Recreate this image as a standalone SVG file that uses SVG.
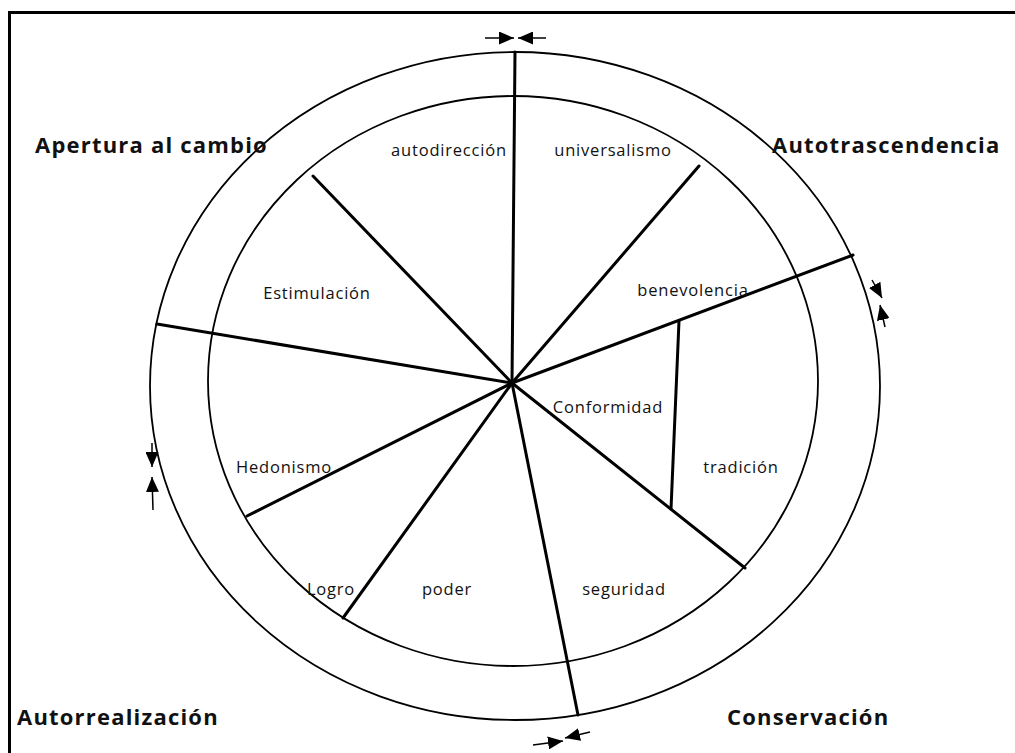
<svg xmlns="http://www.w3.org/2000/svg" width="1015" height="753" viewBox="0 0 1015 753">
<style>
.ring{fill:none;stroke:#000;stroke-width:1.8}
.spoke{stroke:#000;stroke-width:3;stroke-linecap:round}
.lbl{font-family:"Open Sans","Liberation Sans",sans-serif;font-size:16.5px;letter-spacing:0.8px;fill:#111;text-anchor:middle}
.big{font-family:"Open Sans","Liberation Sans",sans-serif;font-size:22px;letter-spacing:1.2px;font-weight:bold;fill:#111}
.arr{stroke:#000;stroke-width:1.5;marker-end:url(#ah)}
</style>
<defs>
<marker id="ah" markerUnits="userSpaceOnUse" markerWidth="15" markerHeight="13" refX="15" refY="6.5" orient="auto">
<path d="M0,0 L15,6.5 L0,13 z" fill="#000"/>
</marker>
</defs>
<rect width="1015" height="753" fill="#fff"/>
<g id="frame">
<line x1="9" y1="12.5" x2="1015" y2="12.5" stroke="#000" stroke-width="3"/>
<line x1="9.5" y1="11" x2="9.5" y2="753" stroke="#000" stroke-width="3"/>
</g>
<g id="outer-ring"><ellipse class="ring" cx="515" cy="386" rx="365" ry="334"/></g>
<g id="inner-ring"><ellipse class="ring" cx="513" cy="381" rx="305" ry="285"/></g>
<g id="connectors">
<line class="spoke" x1="512" y1="383" x2="515" y2="52"/>
<line class="spoke" x1="512" y1="383" x2="699" y2="166"/>
<line class="spoke" x1="512" y1="383" x2="853" y2="255"/>
<line class="spoke" x1="512" y1="383" x2="745" y2="568"/>
<line class="spoke" x1="512" y1="383" x2="578" y2="715"/>
<line class="spoke" x1="512" y1="383" x2="343" y2="618"/>
<line class="spoke" x1="512" y1="383" x2="247" y2="516"/>
<line class="spoke" x1="512" y1="383" x2="157" y2="324"/>
<line class="spoke" x1="512" y1="383" x2="313" y2="176"/>
<line class="spoke" x1="679" y1="321" x2="671" y2="509"/>
<line class="arr" x1="485" y1="38" x2="514" y2="38"/>
<line class="arr" x1="546" y1="38" x2="518" y2="38"/>
<line class="arr" x1="872" y1="280" x2="882" y2="298"/>
<line class="arr" x1="885" y1="327" x2="880" y2="305"/>
<line class="arr" x1="152" y1="443" x2="152" y2="467"/>
<line class="arr" x1="153" y1="510" x2="152" y2="477"/>
<line class="arr" x1="533" y1="745" x2="563" y2="741"/>
<line class="arr" x1="590" y1="732" x2="565" y2="738"/>
</g>
<g id="autodireccion"><text class="lbl" x="449" y="156">autodirección</text></g>
<g id="universalismo"><text class="lbl" x="613" y="156">universalismo</text></g>
<g id="estimulacion"><text class="lbl" x="317" y="299">Estimulación</text></g>
<g id="benevolencia"><text class="lbl" x="693" y="296">benevolencia</text></g>
<g id="conformidad"><text class="lbl" x="608" y="413">Conformidad</text></g>
<g id="tradicion"><text class="lbl" x="741" y="473">tradición</text></g>
<g id="hedonismo"><text class="lbl" x="284" y="473">Hedonismo</text></g>
<g id="logro"><text class="lbl" x="331" y="595">Logro</text></g>
<g id="poder"><text class="lbl" x="447" y="595">poder</text></g>
<g id="seguridad"><text class="lbl" x="624" y="595">seguridad</text></g>
<g id="apertura"><text class="big" x="35" y="153">Apertura al cambio</text></g>
<g id="autotrascendencia"><text class="big" x="772" y="153">Autotrascendencia</text></g>
<g id="autorrealizacion"><text class="big" x="17" y="725">Autorrealización</text></g>
<g id="conservacion"><text class="big" x="727" y="725">Conservación</text></g>
</svg>
